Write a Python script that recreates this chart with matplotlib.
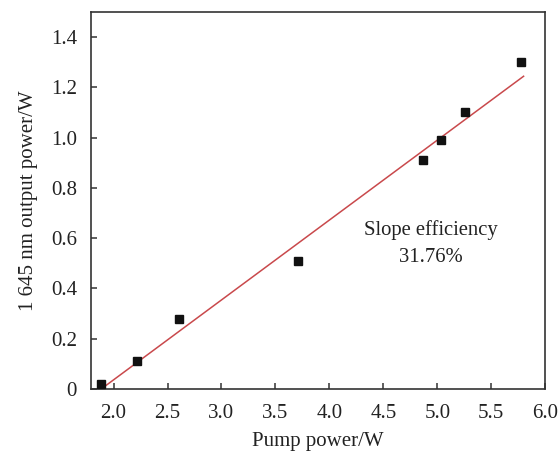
import matplotlib
matplotlib.use('Agg')
import matplotlib.pyplot as plt
import numpy as np

# measured output power at 1645 nm vs pump power
pump = [1.88, 2.22, 2.61, 3.71, 4.87, 5.03, 5.26, 5.78]
output = [0.02, 0.11, 0.28, 0.51, 0.91, 0.99, 1.10, 1.30]

# linear fit: slope efficiency 31.76 %
slope = 0.3176
threshold = 1.884
fit_x = [1.89, 5.80]

xticks = [2.0, 2.5, 3.0, 3.5, 4.0, 4.5, 5.0, 5.5, 6.0]
yticks = [0, 0.2, 0.4, 0.6, 0.8, 1.0, 1.2, 1.4]
ylabels = ['0', '0.2', '0.4', '0.6', '0.8', '1.0', '1.2', '1.4']

plt.rcParams['font.family'] = ['Liberation Serif', 'DejaVu Serif']

fig = plt.figure(figsize=(5.58, 4.54), dpi=100)
ax = fig.add_axes([0.163, 0.143, 0.814, 0.831])

fx = np.array(fit_x)
ax.plot(fx, slope*(fx - threshold), color='#c9494c', lw=1.1, zorder=2)
ax.plot(pump, output, 's', color='#111111', ms=6.3, zorder=3)

ax.text(4.94, 0.613, 'Slope efficiency', ha='center', va='baseline', fontsize=14.9, color='#222222')
ax.text(4.94, 0.505, '31.76%', ha='center', va='baseline', fontsize=14.9, color='#222222')

ax.set_xlim(1.79, 6.0)
ax.set_ylim(0, 1.5)
ax.set_xticks(xticks)
ax.set_xticklabels(['%.1f' % v for v in xticks])
ax.set_yticks(yticks)
ax.set_yticklabels(ylabels)
ax.tick_params(direction='in', length=4, width=1.1, labelsize=15, colors='#333333',
               labelcolor='#222222')
ax.tick_params(axis='y', pad=10)
ax.tick_params(axis='x', pad=11)
for s in ax.spines.values():
    s.set_linewidth(1.2)
    s.set_color('#333333')

ax.set_xlabel('Pump power/W', fontsize=15, color='#222222', labelpad=6)
ax.set_ylabel('1 645 nm output power/W', fontsize=15, color='#222222', labelpad=9)

fig.savefig('out.png', dpi=100)
